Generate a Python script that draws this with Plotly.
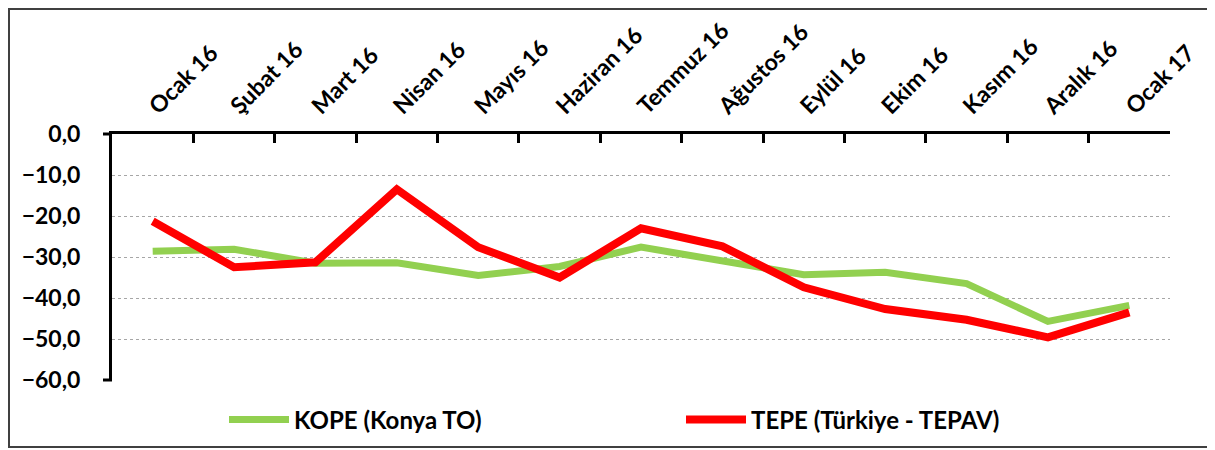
import plotly.graph_objects as go

months = ["Ocak 16", "Şubat 16", "Mart 16", "Nisan 16", "Mayıs 16", "Haziran 16",
          "Temmuz 16", "Ağustos 16", "Eylül 16", "Ekim 16", "Kasım 16", "Aralık 16", "Ocak 17"]
kope = [-28.6, -28.1, -31.5, -31.4, -34.5, -32.3, -27.6, -31.1, -34.3, -33.7, -36.5, -45.7, -41.8]
tepe = [-21.3, -32.5, -31.3, -13.5, -27.6, -35.0, -23.0, -27.4, -37.4, -42.7, -45.3, -49.6, -43.5]
y_ticks = [0, -10, -20, -30, -40, -50, -60]

FONT = "Lato"
fig = go.Figure()
fig.add_trace(go.Scatter(x=months, y=kope, mode="lines", name="KOPE (Konya TO)",
                         line=dict(color="#92D050", width=7)))
fig.add_trace(go.Scatter(x=months, y=tepe, mode="lines", name="TEPE (Türkiye - TEPAV)",
                         line=dict(color="#FF0000", width=8)))

# page has an 8px body margin, so the figure is 8px smaller and all coords shifted
W, H = 1207, 442
L, R, T, B = 104, 1162, 126, 372
def px(x):
    return (x - L) / (R - L)
def py(y):
    return (B - y) / (B - T)

fig.update_layout(
    width=W, height=H,
    margin=dict(l=L, r=W - R, t=T, b=H - B, autoexpand=False),
    paper_bgcolor="white", plot_bgcolor="white",
    font=dict(family=FONT, size=23, color="black", weight="bold"),
    separators=",.",
    xaxis=dict(
        type="category", side="top", tickangle=-45, automargin=False,
        range=[-0.5, len(months) - 0.5],
        showline=True, linecolor="black", linewidth=3,
        ticks="inside", tickson="boundaries", ticklen=9, tickwidth=3, tickcolor="black",
        showgrid=False, zeroline=False, ticklabelshift=-2, ticklabelstandoff=3,
        ticklabeloverflow="allow",
        tickfont=dict(family=FONT, size=23, color="black", weight="bold"),
    ),
    yaxis=dict(
        range=[-60, 0], tickvals=y_ticks, tickformat=".1f", automargin=False,
        showline=True, linecolor="black", linewidth=3,
        showgrid=True, gridcolor="#A6A6A6", gridwidth=1, griddash="dot",
        zeroline=False, ticks="", ticklabelstandoff=24,
        tickfont=dict(family=FONT, size=23, color="black", weight="bold"),
    ),
    showlegend=True,
    legend=dict(
        orientation="h", xref="container", yref="container",
        x=216 / W, y=30 / H, xanchor="left", yanchor="middle",
        itemwidth=60, entrywidth=382, entrywidthmode="pixels",
        font=dict(family=FONT, size=24, color="black", weight="bold"),
        bgcolor="rgba(0,0,0,0)",
    ),
    shapes=[
        dict(type="rect", xref="paper", yref="paper",
             x0=px(1), x1=px(1204), y0=py(439), y1=py(1),
             line=dict(color="#404040", width=2), fillcolor="rgba(0,0,0,0)", layer="below"),
        dict(type="line", xref="paper", yref="paper",
             x0=px(L - 9), x1=0, y0=1, y1=1, line=dict(color="black", width=3)),
        dict(type="line", xref="paper", yref="paper",
             x0=px(L - 9), x1=0, y0=0, y1=0, line=dict(color="black", width=3)),
    ],
)

fig.write_html("out.html")
